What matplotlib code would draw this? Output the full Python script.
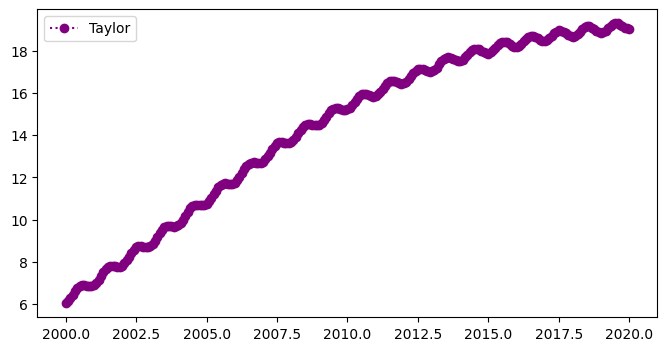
import numpy as np
import matplotlib
matplotlib.use("Agg")
import matplotlib.pyplot as plt

# ── monthly values, one row per year ─────────────────────────────────────────
y2000 = [6.04, 6.14, 6.27, 6.44, 6.60, 6.75, 6.85, 6.90, 6.90, 6.88, 6.85, 6.86]
y2001 = [6.90, 7.01, 7.15, 7.33, 7.51, 7.65, 7.76, 7.81, 7.81, 7.79, 7.77, 7.77]
y2002 = [7.82, 7.93, 8.08, 8.25, 8.43, 8.58, 8.69, 8.73, 8.74, 8.72, 8.70, 8.70]
y2003 = [8.75, 8.86, 9.01, 9.20, 9.38, 9.53, 9.64, 9.69, 9.70, 9.69, 9.67, 9.68]
y2004 = [9.73, 9.85, 10.00, 10.19, 10.37, 10.53, 10.64, 10.70, 10.71, 10.70, 10.68, 10.70]
y2005 = [10.75, 10.86, 11.02, 11.20, 11.38, 11.54, 11.65, 11.70, 11.72, 11.70, 11.68, 11.70]
y2006 = [11.75, 11.86, 12.02, 12.20, 12.38, 12.54, 12.65, 12.70, 12.72, 12.70, 12.68, 12.70]
y2007 = [12.75, 12.86, 13.01, 13.18, 13.36, 13.51, 13.62, 13.66, 13.67, 13.65, 13.63, 13.63]
y2008 = [13.68, 13.78, 13.92, 14.09, 14.25, 14.39, 14.49, 14.53, 14.53, 14.50, 14.46, 14.46]
y2009 = [14.50, 14.59, 14.72, 14.88, 15.04, 15.17, 15.26, 15.29, 15.28, 15.24, 15.20, 15.19]
y2010 = [15.22, 15.30, 15.43, 15.58, 15.73, 15.85, 15.94, 15.96, 15.94, 15.89, 15.85, 15.83]
y2011 = [15.85, 15.93, 16.05, 16.20, 16.35, 16.47, 16.55, 16.57, 16.55, 16.50, 16.45, 16.43]
y2012 = [16.45, 16.53, 16.65, 16.79, 16.94, 17.06, 17.14, 17.15, 17.13, 17.08, 17.03, 17.00]
y2013 = [17.02, 17.09, 17.20, 17.35, 17.49, 17.60, 17.67, 17.68, 17.65, 17.60, 17.54, 17.51]
y2014 = [17.52, 17.58, 17.68, 17.81, 17.94, 18.04, 18.10, 18.10, 18.06, 17.99, 17.92, 17.88]
y2015 = [17.86, 17.92, 18.02, 18.15, 18.27, 18.37, 18.43, 18.43, 18.39, 18.32, 18.24, 18.20]
y2016 = [18.18, 18.23, 18.33, 18.45, 18.57, 18.67, 18.72, 18.71, 18.67, 18.59, 18.51, 18.47]
y2017 = [18.44, 18.49, 18.58, 18.70, 18.82, 18.91, 18.96, 18.95, 18.90, 18.82, 18.74, 18.69]
y2018 = [18.66, 18.71, 18.79, 18.91, 19.03, 19.11, 19.16, 19.15, 19.09, 19.01, 18.93, 18.87]
y2019 = [18.83, 18.87, 18.95, 19.07, 19.18, 19.26, 19.30, 19.29, 19.24, 19.17, 19.10, 19.06]
y2020 = [19.03]

values = (y2000 + y2001 + y2002 + y2003 + y2004 + y2005 + y2006 + y2007 + y2008
          + y2009 + y2010 + y2011 + y2012 + y2013 + y2014 + y2015 + y2016
          + y2017 + y2018 + y2019 + y2020)
time = np.linspace(2000, 2020, len(values))   # monthly time stamps

# ── figure ────────────────────────────────────────────────────────────────────
fig, ax = plt.subplots(figsize=(8, 4), dpi=100)
ax.plot(time, values, color="purple", marker="o", linestyle=":", label="Taylor")
ax.legend(loc="upper left")

plt.savefig("out.png", dpi=100, bbox_inches="tight")
